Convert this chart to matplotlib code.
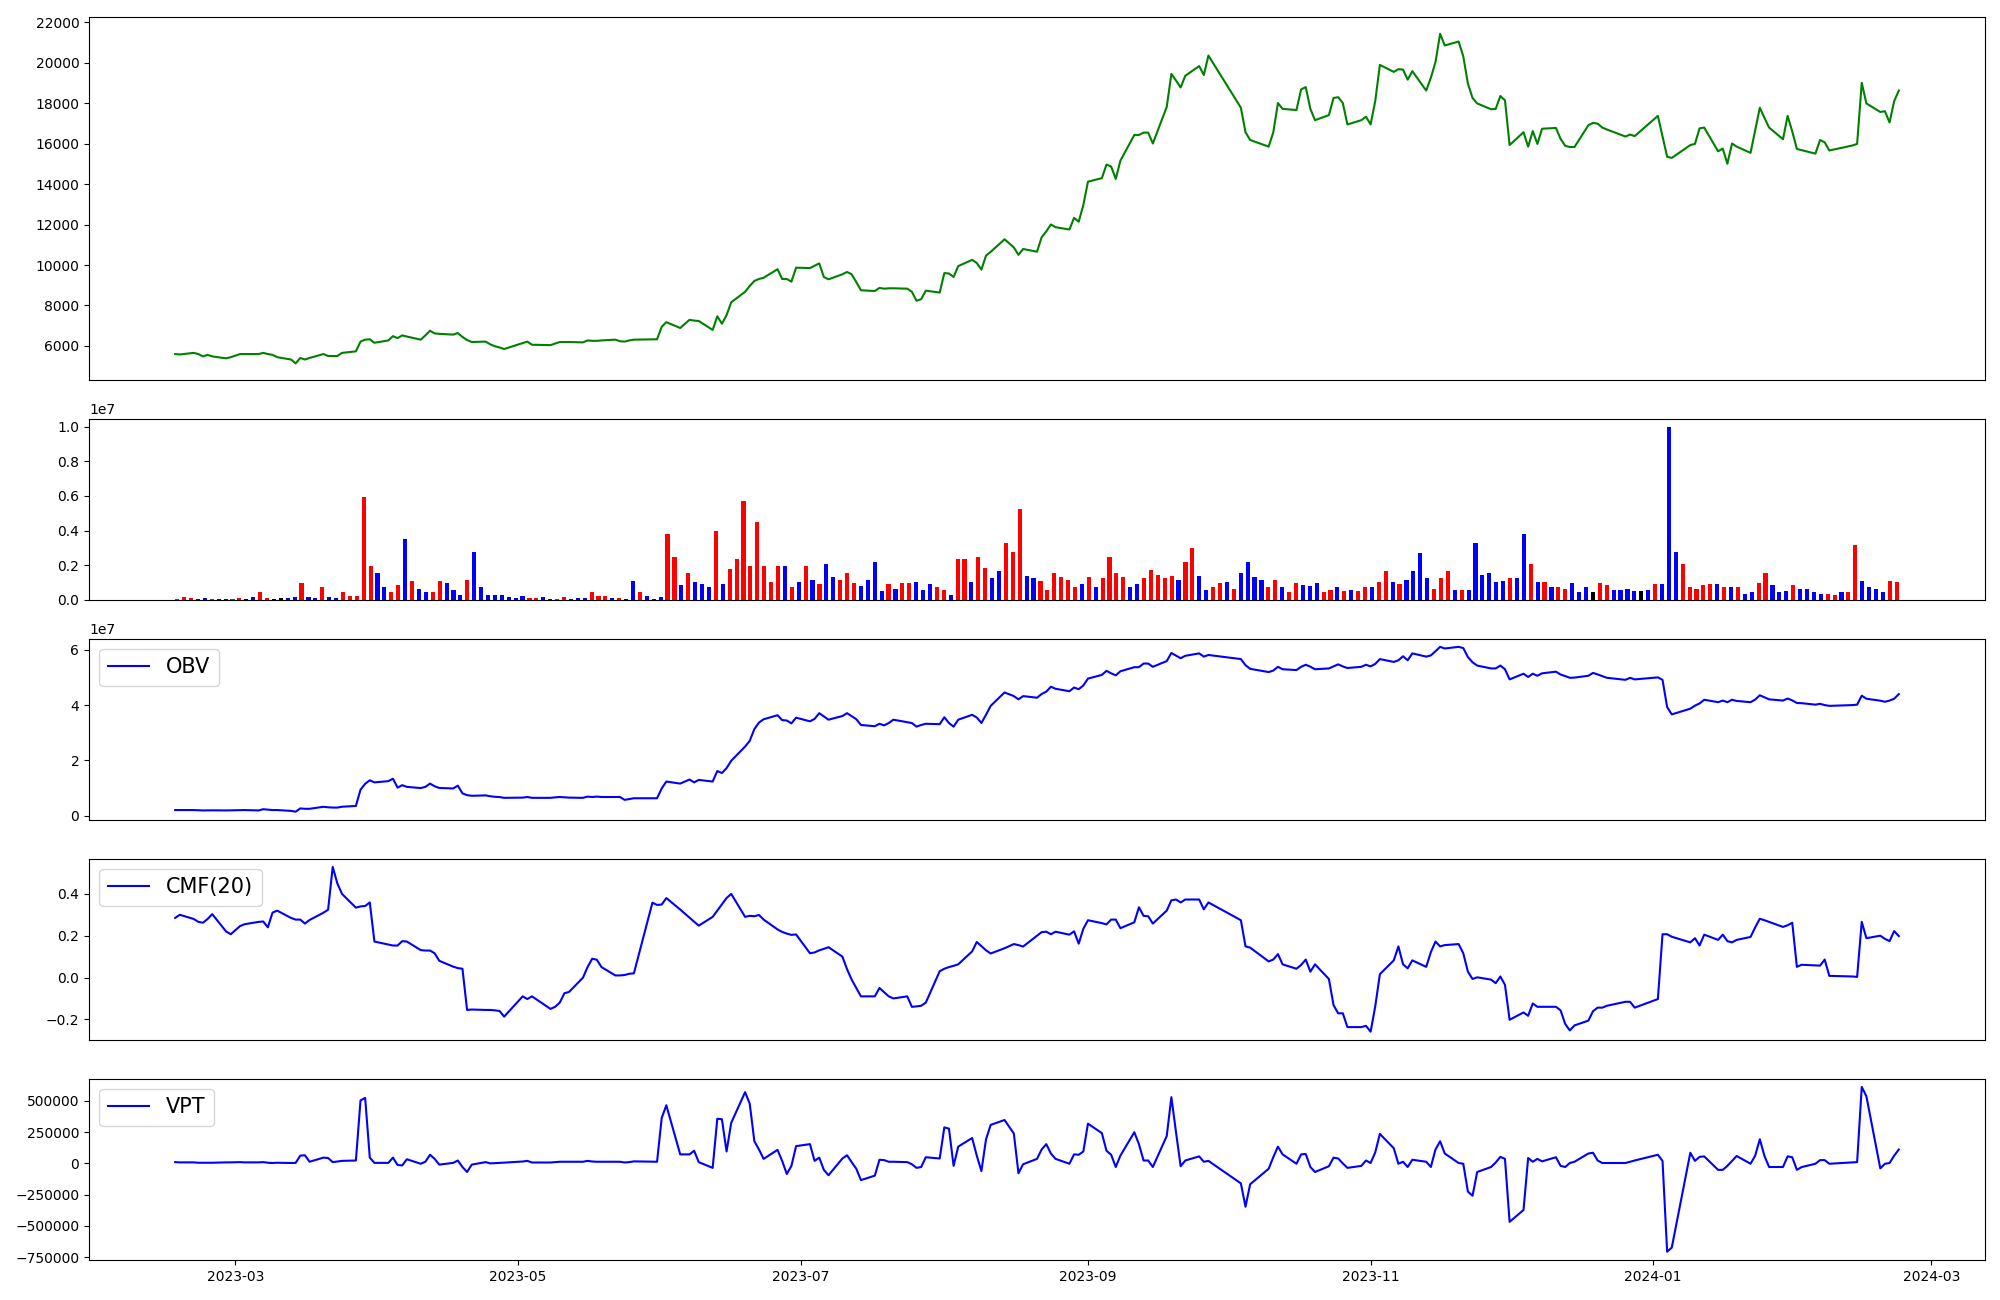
import numpy as np
import pandas as pd
import matplotlib
matplotlib.use("Agg")
import matplotlib.pyplot as plt

# trading days (market closed / no data on these weekdays)
closed = ["2023-03-01", "2023-05-01", "2023-05-05", "2023-05-29", "2023-06-06",
          "2023-08-15", "2023-09-28", "2023-09-29", "2023-10-02", "2023-10-03",
          "2023-10-09", "2023-12-25", "2023-12-29", "2024-01-01", "2024-01-08",
          "2024-02-09", "2024-02-12"]
dates = pd.bdate_range("2023-02-16", "2024-02-23")
dates = dates[~dates.isin(pd.to_datetime(closed))]

price = [
    5596, 5576, 5654, 5596, 5480, 5557, 5480, 5384, 5442, 5596,
    5596, 5596, 5654, 5596, 5557, 5442, 5326, 5134, 5403, 5326,
    5403, 5596, 5500, 5500, 5500, 5654, 5730, 6212, 6308, 6327,
    6154, 6270, 6481, 6385, 6520, 6462, 6308, 6520, 6750, 6616,
    6597, 6558, 6635, 6443, 6289, 6192, 6212, 6077, 5981, 5923,
    5846, 6135, 6212, 6057, 6038, 6115, 6192, 6192, 6192, 6173,
    6270, 6250, 6250, 6270, 6308, 6230, 6212, 6270, 6308, 6327,
    6327, 6943, 7174, 6885, 7290, 7250, 7232, 6789, 7462, 7097,
    7520, 8155, 8675, 8964, 9214, 9311, 9369, 9792, 9311, 9311,
    9176, 9869, 9850, 9966, 10081, 9407, 9292, 9541, 9657, 9541,
    9157, 8752, 8714, 8868, 8830, 8849, 8849, 8830, 8675, 8233,
    8310, 8733, 8637, 9600, 9580, 9407, 9946, 10254, 10100, 9773,
    10466, 10650, 11274, 10870, 10504, 10793, 10658, 11371, 11660, 12006,
    11871, 11756, 12333, 12141, 12968, 14123, 14297, 14970, 14874, 14258,
    15163, 16433, 16433, 16549, 16549, 16010, 17819, 19455, 19128, 18782,
    19359, 19840, 19398, 20360, 17781, 16568, 16183, 15856, 16568, 18012,
    17723, 17665, 18685, 18801, 17723, 17165, 17415, 18262, 18301, 18012,
    16953, 17165, 17338, 16953, 18108, 19898, 19552, 19686, 19667, 19167,
    19590, 18628, 19263, 20033, 21438, 20861, 21053, 20322, 18974, 18262,
    17993, 17704, 17723, 18358, 18147, 15933, 16568, 15856, 16626, 15990,
    16741, 16780, 16241, 15895, 15837, 15837, 16915, 17030, 16992, 16799,
    16703, 16356, 16453, 16376, 17376, 16376, 15355, 15298, 15933, 15990,
    16760, 16799, 15625, 15760, 15009, 16010, 15856, 15548, 16665, 17781,
    17280, 16799, 16221, 17376, 16607, 15740, 15683, 15510, 16183, 16068,
    15664, 15914, 15990, 19013, 17993, 17569, 17608, 17050, 18108, 18628,
]

# volume in millions, r = up day, b = down day, k = unchanged
volume_m = [
    0.07, 0.18, 0.13, 0.07, 0.13, 0.07, 0.07, 0.07, 0.07, 0.13,
    0.07, 0.18, 0.47, 0.13, 0.07, 0.13, 0.13, 0.18, 0.99, 0.18,
    0.13, 0.76, 0.18, 0.13, 0.47, 0.25, 0.25, 5.96, 1.93, 1.53,
    0.72, 0.47, 0.88, 3.49, 1.12, 0.65, 0.47, 0.47, 1.12, 0.99,
    0.58, 0.31, 1.17, 2.74, 0.72, 0.31, 0.31, 0.31, 0.18, 0.13,
    0.25, 0.13, 0.13, 0.18, 0.07, 0.07, 0.18, 0.07, 0.13, 0.13,
    0.47, 0.25, 0.25, 0.13, 0.13, 0.07, 1.12, 0.43, 0.25, 0.07,
    0.18, 3.78, 2.50, 0.88, 1.57, 1.06, 0.94, 0.76, 4.00, 0.94,
    1.80, 2.34, 5.69, 1.93, 4.52, 1.93, 1.06, 1.98, 1.93, 0.76,
    1.06, 1.93, 1.17, 0.94, 2.05, 1.35, 1.17, 1.57, 0.99, 0.83,
    1.17, 2.16, 0.54, 0.94, 0.65, 0.99, 0.99, 1.06, 0.58, 0.94,
    0.76, 0.58, 0.31, 2.38, 2.38, 1.06, 2.45, 1.87, 1.28, 1.69,
    3.31, 2.74, 5.22, 1.39, 1.24, 1.12, 0.58, 1.57, 1.35, 1.17,
    0.76, 0.94, 1.35, 0.76, 1.28, 2.45, 1.57, 1.35, 0.72, 0.94,
    1.28, 1.75, 1.46, 1.28, 1.39, 1.17, 2.16, 3.01, 1.39, 0.58,
    0.72, 0.99, 1.06, 0.65, 1.57, 2.20, 1.35, 1.17, 0.76, 1.17,
    0.72, 0.43, 0.99, 0.88, 0.83, 0.99, 0.43, 0.58, 0.72, 0.54,
    0.58, 0.54, 0.72, 0.76, 1.06, 1.69, 1.06, 0.94, 1.17, 1.69,
    2.68, 1.24, 0.65, 1.24, 1.64, 0.58, 0.58, 0.58, 3.31, 1.46,
    1.53, 1.06, 1.12, 1.24, 1.28, 3.78, 2.05, 1.06, 1.06, 0.76,
    0.76, 0.65, 0.99, 0.43, 0.76, 0.43, 0.99, 0.88, 0.58, 0.58,
    0.65, 0.54, 0.54, 0.58, 0.94, 0.94, 9.97, 2.74, 2.05, 0.76,
    0.65, 0.88, 0.94, 0.94, 0.76, 0.72, 0.72, 0.36, 0.47, 0.99,
    1.53, 0.88, 0.47, 0.54, 0.88, 0.65, 0.65, 0.47, 0.36, 0.36,
    0.31, 0.43, 0.43, 3.15, 1.12, 0.72, 0.65, 0.47, 1.12, 1.06,
]
vol_dir = ("rrrbbrbbrr" "kbrrkkbbrb" "brbbrrrrrb" "brrbrbbrrb" "bbrbbbbbbb"
           "brrbbrrbbb" "rrrbrbbrbb" "brrbrbbbrb" "rrrrrrrrbr" "brbrbbrrrb"
           "bbbrbrrbbb" "rrbrrbrrbb" "rrrbbrrrrr" "rbrbrrrrbb" "rrrrrbrrbb"
           "rrbrbbbbrr" "brrbbbrrbr" "brrbrrbrbb" "bbrrrbrbbb" "bbbrbbrbrb"
           "rrbbbkrrbb" "bbkbrbbbrr" "rrrbrbrbbr" "rbbbrbbbbr" "rbrrbbbbrr")

obv_m = [
    2.0, 2.0, 2.0, 1.95, 1.86, 1.9, 1.9, 1.86, 1.9, 2.0,
    2.0, 1.86, 2.3, 2.15, 2.0, 2.0, 1.7, 1.41, 2.59, 2.45,
    2.45, 3.18, 3.0, 2.9, 2.89, 3.2, 3.48, 9.37, 11.5, 12.76,
    12.02, 12.46, 13.35, 10.11, 11.0, 10.4, 9.96, 10.4, 11.58, 10.6,
    10.0, 9.81, 10.84, 8.04, 7.4, 7.16, 7.31, 7.0, 6.8, 6.7,
    6.42, 6.5, 6.72, 6.42, 6.42, 6.6, 6.72, 6.6, 6.5, 6.42,
    6.87, 6.72, 6.87, 6.72, 6.72, 6.72, 5.69, 6.0, 6.27, 6.27,
    6.27, 9.81, 12.32, 11.58, 13.05, 12.02, 12.91, 12.32, 16.14, 15.41,
    17.18, 19.83, 24.98, 27.05, 31.32, 33.68, 34.86, 36.33, 34.56, 34.42,
    33.38, 35.45, 34.12, 35.0, 37.07, 35.9, 34.71, 36.04, 37.07, 36.0,
    34.9, 32.8, 32.35, 33.24, 32.65, 33.5, 34.71, 33.8, 33.5, 32.2,
    32.8, 33.24, 33.09, 35.59, 33.5, 32.2, 34.71, 36.48, 35.5, 33.53,
    36.5, 39.72, 44.58, 43.25, 42.08, 43.25, 42.67, 44.0, 44.88, 46.64,
    45.91, 45.02, 46.35, 45.76, 47.09, 49.59, 50.92, 52.39, 51.5, 50.77,
    52.24, 53.72, 53.72, 55.04, 55.04, 53.86, 55.93, 58.87, 57.9, 56.96,
    57.84, 58.72, 57.55, 58.14, 56.66, 54.45, 53.13, 51.95, 52.5, 53.86,
    52.98, 52.68, 53.86, 54.6, 53.9, 52.98, 53.27, 54.0, 54.75, 54.0,
    53.42, 53.86, 54.6, 54.01, 54.9, 56.66, 55.63, 56.22, 57.69, 56.22,
    58.72, 57.55, 57.98, 59.5, 61.08, 60.49, 61.08, 60.64, 57.4, 55.5,
    54.31, 53.27, 53.27, 54.31, 52.98, 49.3, 51.36, 50.18, 51.36, 50.62,
    51.5, 52.1, 51.06, 50.5, 49.88, 49.95, 50.62, 51.65, 51.1, 50.5,
    49.88, 49.15, 49.88, 49.3, 50.03, 49.15, 39.28, 36.63, 38.7, 39.8,
    40.6, 41.93, 41.05, 41.64, 41.05, 41.93, 41.5, 41.05, 42.0, 43.55,
    42.8, 42.08, 41.64, 42.37, 41.7, 40.75, 40.7, 40.16, 40.46, 40.0,
    39.72, 40.0, 40.16, 43.4, 42.3, 41.6, 41.2, 41.64, 42.3, 43.99,
]

cmf = [
    0.285, 0.300, 0.28, 0.266, 0.262, 0.28, 0.303, 0.22, 0.207, 0.246,
    0.255, 0.266, 0.268, 0.24, 0.31, 0.32, 0.285, 0.277, 0.277, 0.258,
    0.275, 0.31, 0.324, 0.529, 0.45, 0.40, 0.334, 0.34, 0.342, 0.359,
    0.172, 0.158, 0.153, 0.153, 0.174, 0.172, 0.131, 0.129, 0.129, 0.116,
    0.08, 0.052, 0.045, 0.042, -0.155, -0.153, -0.155, -0.155, -0.157, -0.160,
    -0.187, -0.09, -0.103, -0.090, -0.150, -0.14, -0.12, -0.075, -0.069, -0.001,
    0.05, 0.09, 0.085, 0.05, 0.010, 0.01, 0.012, 0.018, 0.02, 0.358,
    0.347, 0.349, 0.38, 0.325, 0.286, 0.267, 0.248, 0.29, 0.32, 0.35,
    0.38, 0.40, 0.29, 0.295, 0.293, 0.299, 0.277, 0.23, 0.218, 0.21,
    0.204, 0.206, 0.116, 0.12, 0.13, 0.137, 0.145, 0.10, 0.04, -0.01,
    -0.05, -0.09, -0.09, -0.05, -0.07, -0.09, -0.10, -0.09, -0.14, -0.138,
    -0.135, -0.12, 0.03, 0.042, 0.05, 0.056, 0.063, 0.125, 0.17, 0.15,
    0.13, 0.115, 0.14, 0.16, 0.155, 0.148, 0.2, 0.217, 0.219, 0.207,
    0.219, 0.205, 0.221, 0.162, 0.233, 0.274, 0.26, 0.254, 0.277, 0.277,
    0.236, 0.264, 0.336, 0.295, 0.293, 0.258, 0.320, 0.369, 0.373, 0.359,
    0.373, 0.373, 0.326, 0.359, 0.274, 0.149, 0.143, 0.077, 0.086, 0.112,
    0.063, 0.042, 0.06, 0.086, 0.028, 0.063, -0.007, -0.132, -0.171, -0.171,
    -0.237, -0.237, -0.231, -0.259, -0.138, 0.016, 0.082, 0.149, 0.063, 0.044,
    0.082, 0.051, 0.121, 0.172, 0.149, 0.155, 0.160, 0.116, 0.028, -0.007,
    0.001, -0.01, -0.027, 0.005, -0.035, -0.202, -0.167, -0.183, -0.124, -0.140,
    -0.140, -0.140, -0.157, -0.222, -0.253, -0.229, -0.206, -0.161, -0.144, -0.144,
    -0.135, -0.116, -0.116, -0.144, -0.103, 0.207, 0.207, 0.195, 0.168, 0.188,
    0.153, 0.205, 0.180, 0.205, 0.174, 0.168, 0.18, 0.194, 0.24, 0.281,
    0.274, 0.266, 0.242, 0.25, 0.262, 0.051, 0.061, 0.058, 0.057, 0.086,
    0.008, 0.005, 0.003, 0.266, 0.188, 0.2, 0.185, 0.174, 0.222, 0.198,
]

# VPT in thousands
vpt_k = [
    10, 8, 8, 5, 5, 5, 5, 8, 8, 10,
    8, 8, 10, 5, 3, 5, 3, 4, 62, 65,
    13, 46, 43, 10, 15, 20, 23, 504, 524, 46,
    4, 4, 46, -13, -16, 33, -3, 13, 69, 36,
    -10, 4, 23, -29, -69, -10, 10, 0, 2, 4,
    6, 15, 20, 7, 7, 10, 13, 13, 13, 13,
    20, 15, 13, 13, 13, 13, 7, 10, 16, 13,
    13, 363, 465, 72, 72, 101, 10, -36, 357, 353,
    95, 324, 570, 478, 177, 111, 36, 108, 20, -85,
    -20, 138, 154, 20, 46, -52, -95, 39, 65, 10,
    -43, -134, -98, 29, 26, 13, 13, 10, -7, -36,
    -29, 49, 39, 288, 278, -20, 134, 203, 62, -62,
    193, 308, 347, 239, -79, -7, 36, 111, 154, 79,
    36, -3, 72, 69, 95, 318, 242, 101, 69, -29,
    62, 249, 154, 23, 23, -29, 219, 530, 250, -23,
    23, 56, 13, 20, -160, -347, -167, -43, 50, 134,
    72, -3, 72, 75, -29, -69, -23, 46, 39, 0,
    -36, -20, 23, 3, 88, 236, 121, -3, 13, -29,
    29, 13, -29, 111, 177, 79, 3, -3, -226, -259,
    -69, -29, 7, 52, 36, -468, -373, 43, 13, 36,
    16, 49, -20, -29, 3, 13, 79, 85, 23, 3,
    3, 3, 13, 23, 69, 20, -707, -674, 85, 20,
    52, 56, -52, -52, -20, 20, 59, -3, 62, 193,
    60, -29, -29, 56, 49, -52, -30, -3, 26, 26,
    -3, 8, 10, 612, 537, -40, -3, 3, 62, 111,
]

bar_colors = {"r": "red", "b": "blue", "k": "black"}

fig, axes = plt.subplots(5, 1, figsize=(20, 13),
                         gridspec_kw={"height_ratios": [2, 1, 1, 1, 1]})
fig.subplots_adjust(left=0.0445, right=0.9925, top=0.9867, bottom=0.0308, hspace=0.178)
ax1, ax2, ax3, ax4, ax5 = axes

ax1.plot(dates, price, color="green")

ax2.bar(np.arange(len(volume_m)), np.array(volume_m) * 1e6, width=0.6,
        color=[bar_colors[c] for c in vol_dir])

ax3.plot(dates, np.array(obv_m) * 1e6, color="blue", label="OBV")
ax4.plot(dates, cmf, color="blue", label="CMF(20)")
ax5.plot(dates, np.array(vpt_k) * 1e3, color="blue", label="VPT")

for ax in (ax3, ax4, ax5):
    ax.legend(loc="upper left", fontsize=15)
for ax in (ax1, ax2, ax3, ax4):
    ax.set_xticks([])

fig.savefig("out.png", dpi=100)
